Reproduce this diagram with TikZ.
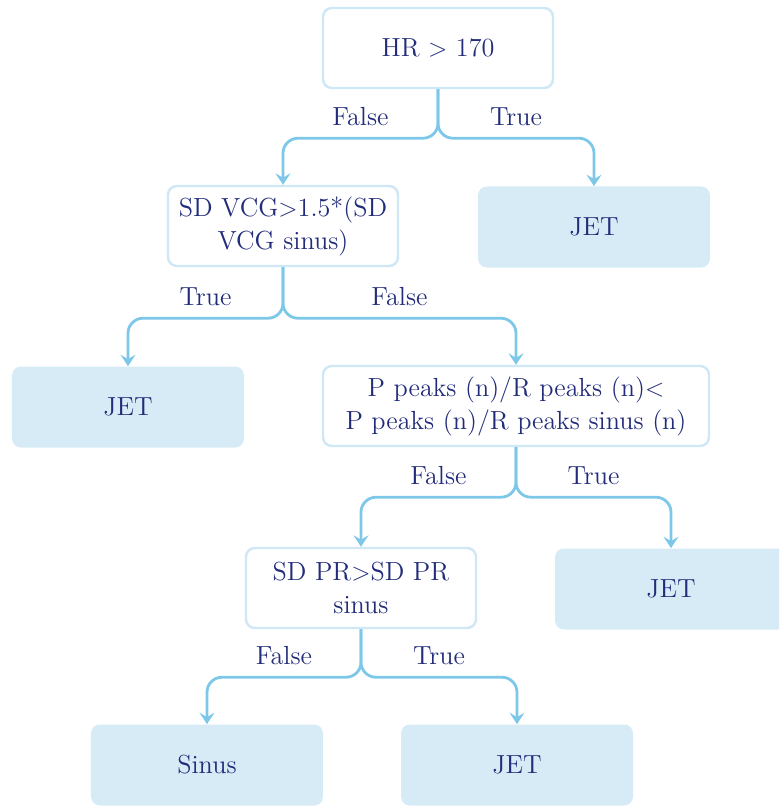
\documentclass[tikz,border=0pt]{standalone}
\usepackage{amssymb,amsmath}
\usetikzlibrary{positioning,arrows.meta}
\definecolor{txtblue}{RGB}{34,44,122}
\definecolor{edgeblue}{RGB}{125,200,232}
\definecolor{leafblue}{RGB}{214,235,246}
\definecolor{rimblue}{RGB}{208,232,246}

\begin{document}
\begin{tikzpicture}[on grid,font=\fontsize{14.9}{18.8}\selectfont,text=txtblue,
  test/.style={draw=rimblue,line width=1.4pt,fill=white,rounded corners=5pt,
    minimum width=4.6cm,minimum height=1.6cm,align=center},
  leaf/.style={fill=leafblue,rounded corners=5pt,minimum width=4.64cm,minimum height=1.62cm},
  branch/.style={draw=edgeblue,line width=1.6pt,rounded corners=0.3cm,
    -{Stealth[length=6.5pt,width=8.5pt,inset=2.5pt]}}]
 \clip (-8.76,-15.18) rectangle (6.82,0.96);
 \node[test] (hr) at (0,0) {HR $>$ 170};
 \node[test] (vcg) [below left=3.56cm and 3.1cm of hr] {SD VCG$>$1.5*(SD\\VCG sinus)};
 \node[leaf] (jet_a) [below right=3.58cm and 3.12cm of hr] {JET};
 \node[leaf] (jet_b) [below left=3.62cm and 3.1cm of vcg] {JET};
 \node[test,minimum width=7.72cm] (pr_ratio) [below right=3.6cm and 4.66cm of vcg]
   {P peaks (n)/R peaks (n)$<$\\P peaks (n)/R peaks sinus (n)};
 \node[test] (sdpr) [below left=3.64cm and 3.1cm of pr_ratio] {SD PR$>$SD PR\\sinus};
 \node[leaf] (jet_c) [below right=3.66cm and 3.1cm of pr_ratio] {JET};
 \node[leaf] (sinus) [below left=3.54cm and 3.08cm of sdpr] {Sinus};
 \node[leaf] (jet_d) [below right=3.54cm and 3.12cm of sdpr] {JET};

 \draw[branch] (hr.south) -- ++(0,-0.98) -| node[pos=0.25,above=3pt] {False} (vcg.north);
 \draw[branch] (hr.south) -- ++(0,-0.98) -| node[pos=0.25,above=3pt] {True} (jet_a.north);
 \draw[branch] (vcg.south) -- ++(0,-1.02) -| node[pos=0.25,above=3pt] {True} (jet_b.north);
 \draw[branch] (vcg.south) -- ++(0,-1.02) -| node[pos=0.25,above=3pt] {False} (pr_ratio.north);
 \draw[branch] (pr_ratio.south) -- ++(0,-1.0) -| node[pos=0.25,above=3pt] {False} (sdpr.north);
 \draw[branch] (pr_ratio.south) -- ++(0,-1.0) -| node[pos=0.25,above=3pt] {True} (jet_c.north);
 \draw[branch] (sdpr.south) -- ++(0,-0.96) -| node[pos=0.25,above=3pt] {False} (sinus.north);
 \draw[branch] (sdpr.south) -- ++(0,-0.96) -| node[pos=0.25,above=3pt] {True} (jet_d.north);
\end{tikzpicture}
\end{document}
